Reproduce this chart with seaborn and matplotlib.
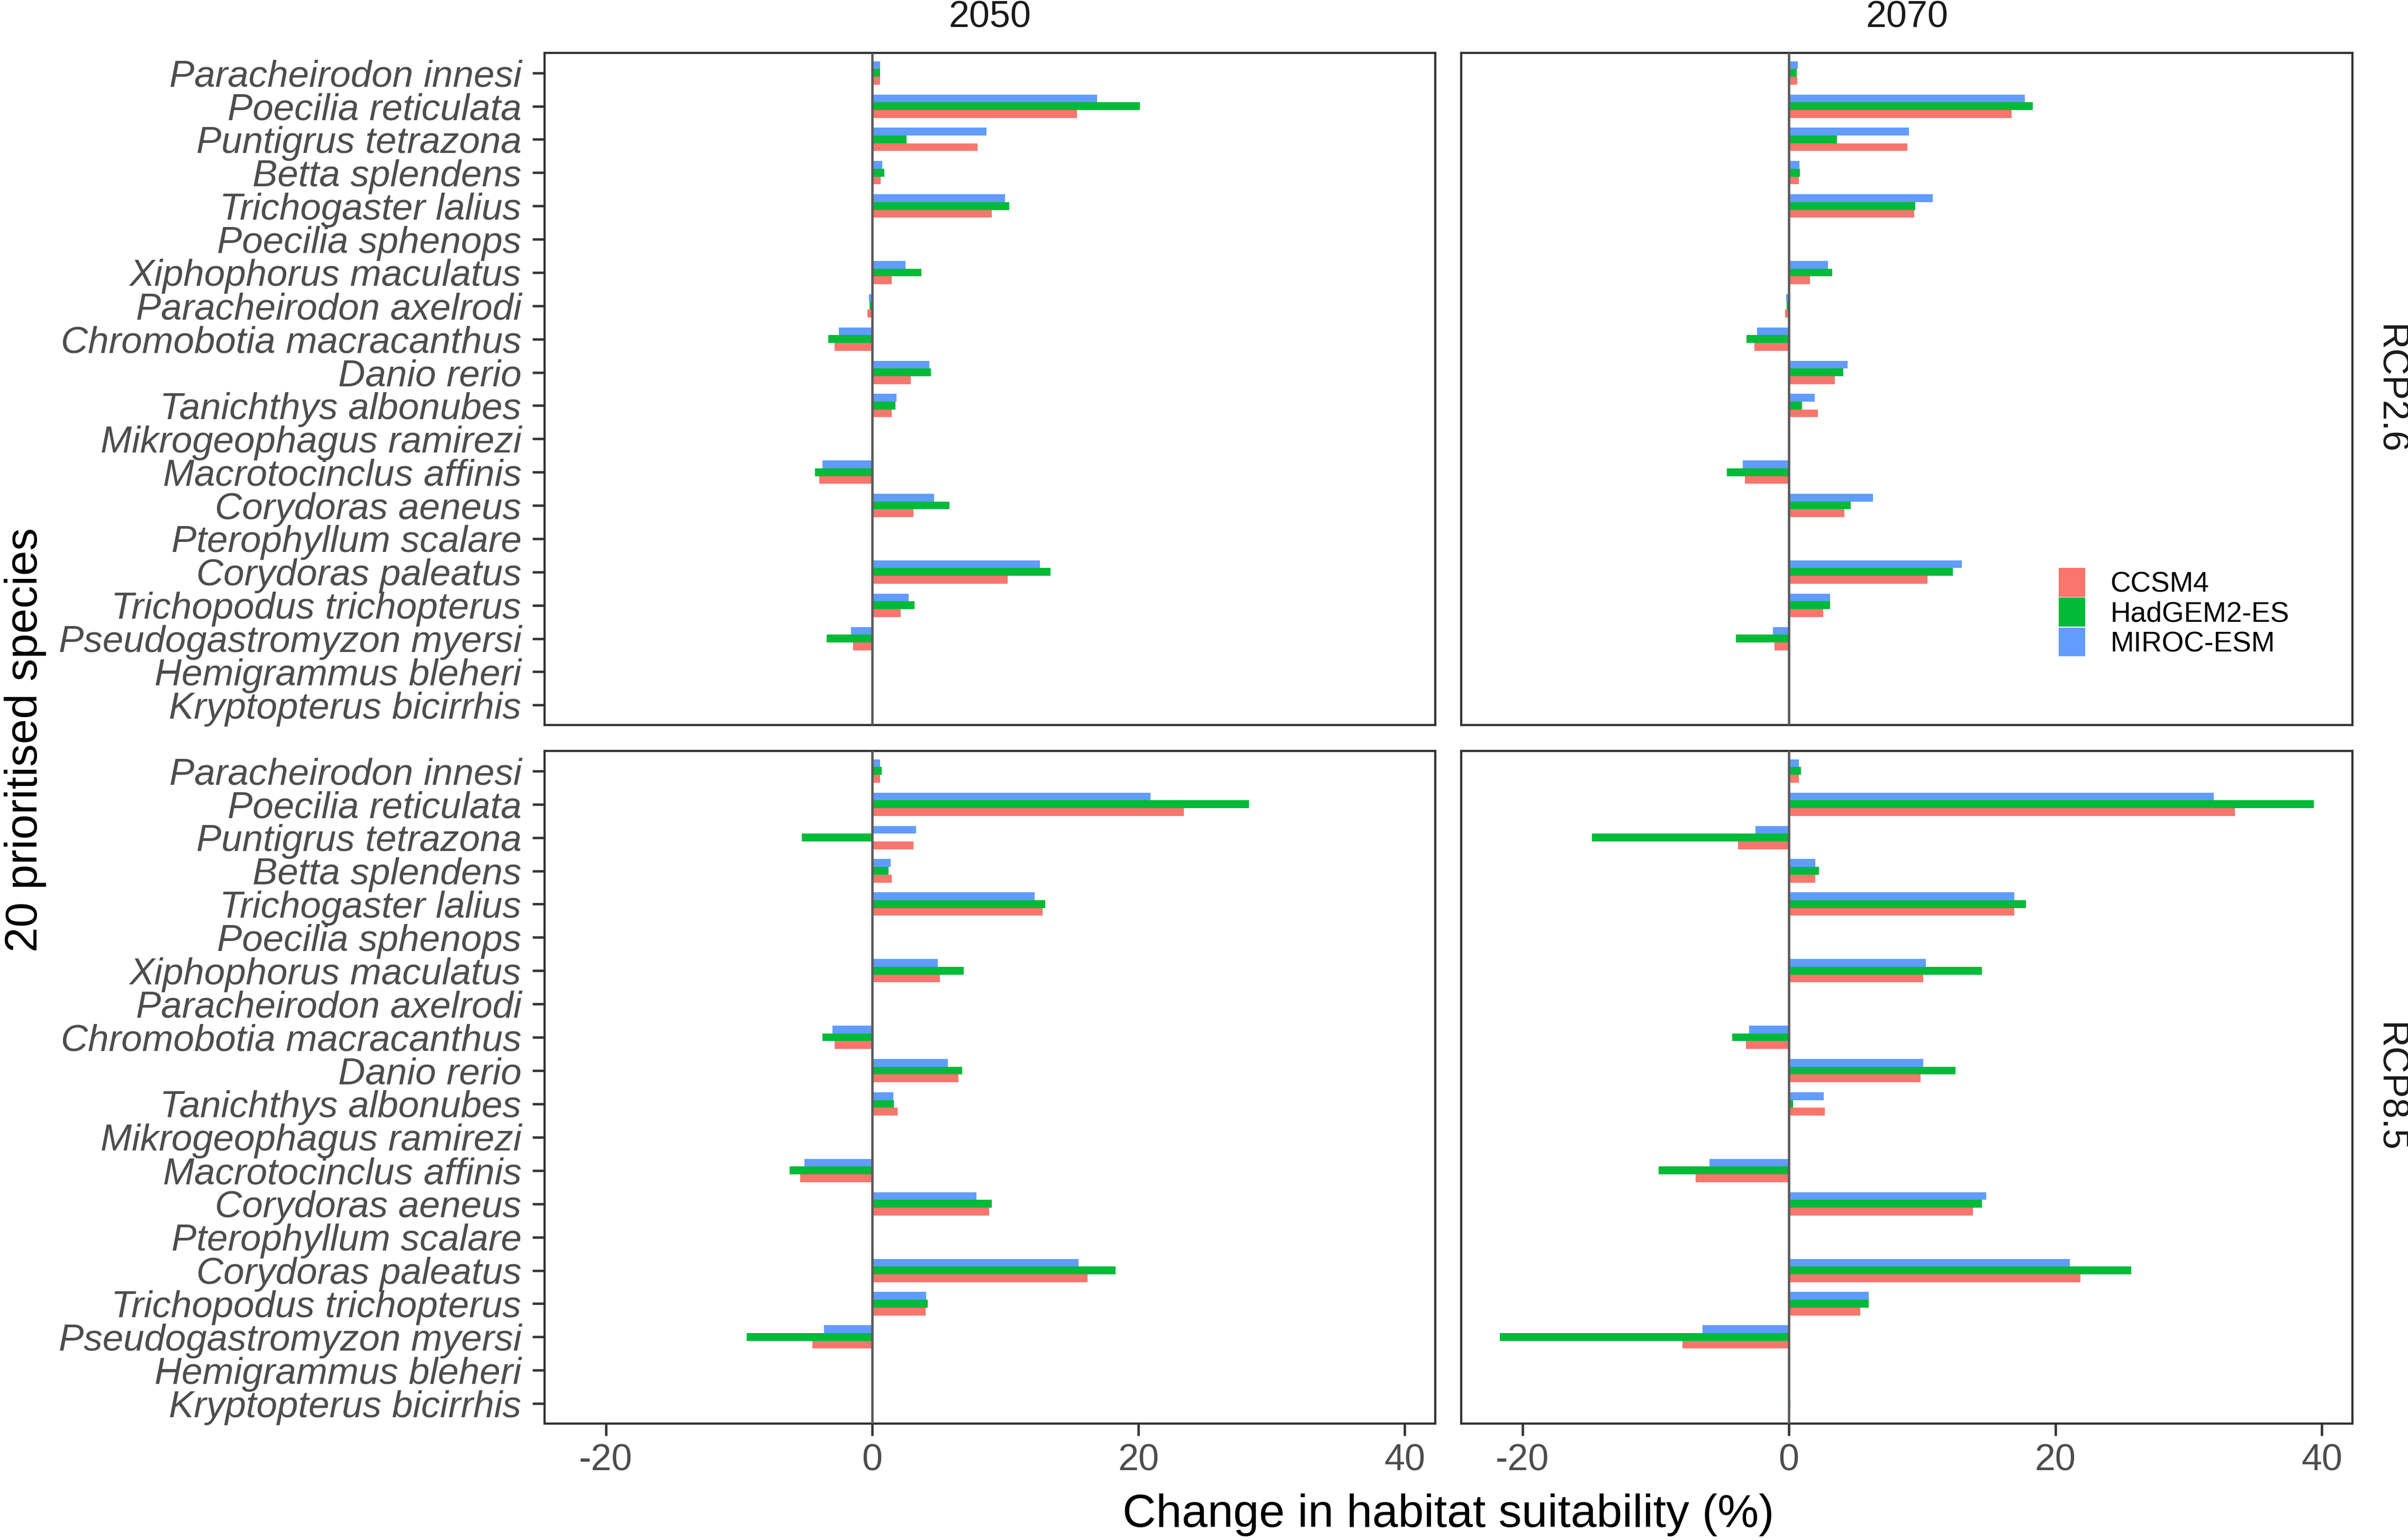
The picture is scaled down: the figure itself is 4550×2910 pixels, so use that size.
import numpy as np
import pandas as pd
import matplotlib
matplotlib.use("Agg")
import matplotlib.pyplot as plt
import seaborn as sns
from matplotlib.patches import Patch

# ---------------- data ----------------
species = [
    "Paracheirodon innesi", "Poecilia reticulata", "Puntigrus tetrazona",
    "Betta splendens", "Trichogaster lalius", "Poecilia sphenops",
    "Xiphophorus maculatus", "Paracheirodon axelrodi", "Chromobotia macracanthus",
    "Danio rerio", "Tanichthys albonubes", "Mikrogeophagus ramirezi",
    "Macrotocinclus affinis", "Corydoras aeneus", "Pterophyllum scalare",
    "Corydoras paleatus", "Trichopodus trichopterus", "Pseudogastromyzon myersi",
    "Hemigrammus bleheri", "Kryptopterus bicirrhis",
]
models = ["CCSM4", "HadGEM2-ES", "MIROC-ESM"]
periods = ["2050", "2070"]
scenarios = ["RCP2.6", "RCP8.5"]

# RCP2.6, 2050
ccsm4_rcp26_2050 = [0.6, 15.4, 7.9, 0.64, 9.0, 0, 1.46, -0.34, -2.8, 2.9, 1.46, 0, -3.95, 3.1, 0, 10.2, 2.17, -1.44, 0, 0]
hadgem_rcp26_2050 = [0.6, 20.1, 2.6, 0.9, 10.3, 0, 3.7, -0.2, -3.3, 4.4, 1.74, 0, -4.3, 5.8, 0, 13.4, 3.2, -3.4, 0, 0]
miroc_rcp26_2050 = [0.62, 16.9, 8.6, 0.77, 10.0, 0, 2.5, -0.25, -2.5, 4.3, 1.85, 0, -3.75, 4.66, 0, 12.6, 2.74, -1.57, 0, 0]
# RCP2.6, 2070
ccsm4_rcp26_2070 = [0.64, 16.7, 8.9, 0.75, 9.4, 0, 1.58, -0.3, -2.6, 3.45, 2.17, 0, -3.3, 4.15, 0, 10.4, 2.56, -1.1, 0, 0]
hadgem_rcp26_2070 = [0.6, 18.3, 3.6, 0.82, 9.5, 0, 3.26, -0.18, -3.2, 4.1, 1.0, 0, -4.64, 4.64, 0, 12.3, 3.1, -4.0, 0, 0]
miroc_rcp26_2070 = [0.66, 17.7, 9.0, 0.8, 10.8, 0, 2.95, -0.2, -2.4, 4.4, 1.94, 0, -3.45, 6.3, 0, 13.0, 3.1, -1.2, 0, 0]
# RCP8.5, 2050
ccsm4_rcp85_2050 = [0.6, 23.4, 3.1, 1.46, 12.8, 0, 5.1, 0, -2.83, 6.5, 1.9, 0, -5.4, 8.8, 0, 16.2, 4.04, -4.5, 0, 0]
hadgem_rcp85_2050 = [0.73, 28.3, -5.3, 1.25, 13.0, 0, 6.9, 0, -3.75, 6.76, 1.62, 0, -6.2, 9.0, 0, 18.3, 4.16, -9.4, 0, 0]
miroc_rcp85_2050 = [0.6, 20.9, 3.3, 1.39, 12.2, 0, 4.95, 0, -2.97, 5.7, 1.6, 0, -5.07, 7.85, 0, 15.5, 4.07, -3.6, 0, 0]
# RCP8.5, 2070
ccsm4_rcp85_2070 = [0.76, 33.5, -3.84, 1.98, 16.9, 0, 10.1, 0, -3.23, 9.9, 2.7, 0, -7.0, 13.8, 0, 21.9, 5.36, -8.0, 0, 0]
hadgem_rcp85_2070 = [0.91, 39.4, -14.8, 2.24, 17.8, 0, 14.5, 0.05, -4.26, 12.5, 0.3, 0, -9.77, 14.5, 0, 25.7, 6.0, -21.7, 0, 0.1]
miroc_rcp85_2070 = [0.76, 31.9, -2.5, 1.98, 16.9, 0, 10.3, 0, -2.97, 10.1, 2.6, 0, -5.97, 14.8, 0, 21.1, 6.0, -6.5, 0, 0]

panel_values = {
    ("RCP2.6", "2050"): (ccsm4_rcp26_2050, hadgem_rcp26_2050, miroc_rcp26_2050),
    ("RCP2.6", "2070"): (ccsm4_rcp26_2070, hadgem_rcp26_2070, miroc_rcp26_2070),
    ("RCP8.5", "2050"): (ccsm4_rcp85_2050, hadgem_rcp85_2050, miroc_rcp85_2050),
    ("RCP8.5", "2070"): (ccsm4_rcp85_2070, hadgem_rcp85_2070, miroc_rcp85_2070),
}

rows = []
for (scen, per), series in panel_values.items():
    for m, vals in zip(models, series):
        for sp, v in zip(species, vals):
            rows.append({"scenario": scen, "period": per, "model": m,
                         "species": sp, "value": v})
df = pd.DataFrame(rows)

# ---------------- style ----------------
palette = {"CCSM4": "#F8766D", "HadGEM2-ES": "#00BA38", "MIROC-ESM": "#619CFF"}
plt.rcParams["font.family"] = ["Liberation Sans", "DejaVu Sans"]
plt.rcParams["axes.unicode_minus"] = False

W, H = 4550, 2910
fig = plt.figure(figsize=(W / 300, H / 300), dpi=300)


def rect(x0, y0, x1, y1):
    return [x0 / W, 1 - y1 / H, (x1 - x0) / W, (y1 - y0) / H]


col_x = [(1029, 2712), (2761, 4445)]
row_y = [(100, 1370), (1419, 2690)]
tick_col = "#4D4D4D"
dark = "#333333"

for r, scen in enumerate(scenarios):
    for c, per in enumerate(periods):
        ax = fig.add_axes(rect(col_x[c][0], row_y[r][0], col_x[c][1], row_y[r][1]))
        sub = df[(df.scenario == scen) & (df.period == per)]
        sns.barplot(data=sub, y="species", x="value", hue="model",
                    order=species, hue_order=["MIROC-ESM", "HadGEM2-ES", "CCSM4"],
                    palette=palette, orient="h", width=0.7, saturation=1,
                    errorbar=None, legend=False, linewidth=0, ax=ax)
        ax.axvline(0, color="#5a5a5a", lw=1.1, zorder=3)
        ax.set_xlim(-24.6, 42.3)
        ax.set_ylim(19.6, -0.6)
        ax.set_xlabel("")
        ax.set_ylabel("")
        ax.set_facecolor("white")
        for sp in ax.spines.values():
            sp.set_color(dark)
            sp.set_linewidth(1.0)
        ax.set_yticks(range(len(species)))
        if c == 0:
            ax.set_yticklabels(species, fontstyle="italic")
            ax.tick_params(axis="y", length=5.5, width=1.1, color=dark, pad=5,
                           labelsize=17, labelcolor=tick_col)
        else:
            ax.tick_params(axis="y", left=False, labelleft=False)
        ax.set_xticks([-20, 0, 20, 40])
        if r == 1:
            ax.set_xticklabels(["-20", "0", "20", "40"])
            ax.tick_params(axis="x", length=5.5, width=1.1, color=dark, pad=3.5,
                           labelsize=16.8, labelcolor=tick_col)
        else:
            ax.tick_params(axis="x", bottom=False, labelbottom=False)

# strip labels
for c, per in enumerate(periods):
    xc = (col_x[c][0] + col_x[c][1]) / 2 / W
    fig.text(xc, 1 - 34 / H, per, ha="center", va="center", fontsize=16.8, color="#1A1A1A")
for r, scen in enumerate(scenarios):
    yc = 1 - (row_y[r][0] + row_y[r][1]) / 2 / H
    fig.text(4515 / W, yc, scen, ha="center", va="center", rotation=-90,
             fontsize=16.8, color="#1A1A1A")

# axis titles
fig.text((col_x[0][0] + col_x[1][1]) / 2 / W, 1 - 2885 / H,
         "Change in habitat suitability (%)", ha="center", va="baseline",
         fontsize=21, color="black")
fig.text(48 / W, 1 - 1398 / H, "20 prioritised species", ha="center", va="center",
         rotation=90, fontsize=20.5, color="black")

# legend
handles = [Patch(facecolor=palette[m], edgecolor="none") for m in models]
fig.legend(handles, models, loc="upper left", bbox_to_anchor=(3890 / W, 1 - 1073 / H),
           frameon=False, fontsize=12.8, handlelength=0.94, handleheight=1.2,
           handletextpad=0.89, labelspacing=0, borderpad=0, borderaxespad=0)

fig.savefig("out.png", dpi=300, facecolor="white")
